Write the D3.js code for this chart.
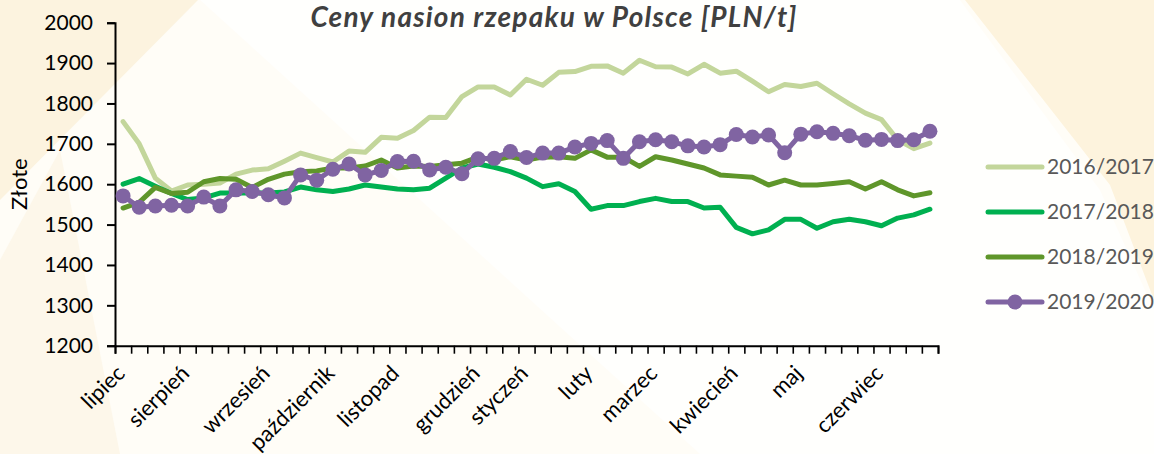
<!DOCTYPE html>
<html>
<head>
<meta charset="utf-8">
<script src="https://cdn.jsdelivr.net/npm/d3@7"></script>
<style>
  body { margin: 0; background: #ffffff; }
  svg { display: block; font-family: Lato, "Noto Sans", sans-serif; }
</style>
</head>
<body>
<div id="chart"></div>
<script>
// chart values, one entry per week (lipiec .. czerwiec)
var seasons = ["2016/2017", "2017/2018", "2018/2019", "2019/2020"];

var s2016 = [1755, 1700, 1615, 1583, 1598, 1600, 1603, 1625, 1635, 1638, 1657, 1677, 1666, 1655, 1682, 1679, 1716,
  1714, 1733, 1766, 1765, 1817, 1841, 1841, 1821, 1860, 1845, 1877, 1879, 1892, 1893, 1875, 1907, 1891, 1890,
  1873, 1897, 1875, 1880, 1855, 1829, 1847, 1842, 1850, 1824, 1799, 1776, 1760, 1710, 1688, 1702];

var s2017 = [1600, 1614, 1595, 1577, 1562, 1566, 1578, 1578, 1578, 1578, 1581, 1593, 1586, 1582, 1588, 1598, 1593,
  1588, 1586, 1590, 1615, 1640, 1650, 1642, 1631, 1615, 1594, 1601, 1582, 1538, 1547, 1547, 1557, 1565, 1557,
  1557, 1541, 1543, 1493, 1477, 1487, 1513, 1513, 1491, 1507, 1513, 1507, 1497, 1516, 1524, 1538];

var s2018 = [1541, 1555, 1592, 1577, 1580, 1606, 1614, 1612, 1592, 1612, 1625, 1631, 1633, 1640, 1640, 1645, 1660,
  1640, 1645, 1644, 1648, 1652, 1667, 1660, 1668, 1660, 1667, 1668, 1664, 1685, 1667, 1667, 1644, 1668, 1660,
  1650, 1640, 1623, 1620, 1617, 1598, 1610, 1598, 1598, 1602, 1606, 1588, 1606, 1586, 1571, 1579];

var s2019 = [1571, 1543, 1546, 1548, 1546, 1568, 1546, 1586, 1582, 1574, 1566, 1623, 1610, 1637, 1650, 1623, 1634,
  1656, 1657, 1635, 1642, 1626, 1663, 1664, 1681, 1666, 1677, 1677, 1692, 1701, 1708, 1664, 1705, 1710, 1705,
  1695, 1692, 1698, 1723, 1717, 1722, 1678, 1724, 1730, 1726, 1720, 1709, 1711, 1708, 1710, 1731];

// month names and the week they are written under
var months = ["lipiec", "sierpień", "wrzesień", "październik", "listopad", "grudzień", "styczeń", "luty",
  "marzec", "kwiecień", "maj", "czerwiec"];
var monthWeek = [0, 4, 9, 13, 17, 22, 25, 29, 33, 38, 42, 47];

var yTicks = [1200, 1300, 1400, 1500, 1600, 1700, 1800, 1900, 2000];

var colors = ["#c3d69b", "#00b050", "#5f962a", "#8064a2"];

var W = 1154, H = 454;
var plot = { left: 115, right: 938, top: 22.7, bottom: 345.7 };

var svg = d3.select("#chart").append("svg")
  .attr("width", W)
  .attr("height", H);

// pale background shapes
svg.append("rect").attr("width", W).attr("height", H).attr("fill", "#fffdf7");
var bg = svg.append("g");
bg.append("path").attr("d", "M0,0 L198,0 L0,200 Z").attr("fill", "#fcf3df");
bg.append("path").attr("d", "M965,0 L1154,0 L1154,300 L1110,185 Z").attr("fill", "#fdf3dd");
bg.append("path").attr("d", "M0,260 L60,150 L120,454 L0,454 Z").attr("fill", "#fdf7ea");
bg.append("path").attr("d", "M200,0 L960,0 L1100,190 L1154,310 L1154,454 L700,454 Z").attr("fill", "#ffffff").attr("opacity", 0.7);

var weeks = d3.range(s2016.length);

var x = d3.scaleBand()
  .domain(weeks)
  .range([plot.left, plot.right]);

var xEdge = d3.scaleLinear()
  .domain([0, weeks.length])
  .range([plot.left, plot.right]);

var y = d3.scaleLinear()
  .domain([1200, 2000])
  .range([plot.bottom, plot.top]);

function cx(i) { return x(i) + x.bandwidth() / 2; }

// y axis
var yAxis = svg.append("g")
  .attr("transform", "translate(" + plot.left + ",0)")
  .call(d3.axisLeft(y).tickValues(yTicks).tickSize(8).tickPadding(14).tickFormat(d3.format("d")));
yAxis.select(".domain").attr("stroke", "#000").attr("stroke-width", 2);
yAxis.selectAll(".tick line").attr("stroke", "#000").attr("stroke-width", 2);
yAxis.selectAll("text").attr("font-size", 21).attr("fill", "#000").attr("font-family", "Lato");

// x axis: ticks at week boundaries, labels under the first week of each month
var xAxis = svg.append("g")
  .attr("transform", "translate(0," + plot.bottom + ")")
  .call(d3.axisBottom(xEdge).tickValues(d3.range(weeks.length + 1)).tickSize(8).tickFormat(""));
xAxis.select(".domain").attr("stroke", "#000").attr("stroke-width", 2);
xAxis.selectAll(".tick line").attr("stroke", "#000").attr("stroke-width", 1.6);

svg.append("g").selectAll("text")
  .data(months)
  .enter()
  .append("text")
  .attr("transform", function (d, i) {
    return "translate(" + (cx(monthWeek[i]) + 3) + "," + (plot.bottom + 29) + ") rotate(-45)";
  })
  .attr("text-anchor", "end")
  .attr("font-size", 22)
  .attr("fill", "#000")
  .text(function (d) { return d; });

// axis title
svg.append("text")
  .attr("transform", "translate(27," + ((plot.top + plot.bottom) / 2) + ") rotate(-90)")
  .attr("text-anchor", "middle")
  .attr("font-size", 22)
  .attr("fill", "#000")
  .text("Złote");

// chart title
svg.append("text")
  .attr("x", 554)
  .attr("y", 27)
  .attr("text-anchor", "middle")
  .attr("font-size", 28)
  .attr("font-weight", "bold")
  .attr("font-style", "italic")
  .attr("letter-spacing", 1.2)
  .attr("fill", "#404040")
  .text("Ceny nasion rzepaku w Polsce [PLN/t]");

// lines
var series = [s2016, s2017, s2018, s2019];
var line = d3.line()
  .x(function (d, i) { return cx(i); })
  .y(function (d) { return y(d); });

svg.append("g").selectAll("path")
  .data(series)
  .enter()
  .append("path")
  .attr("d", function (d) { return line(d); })
  .attr("fill", "none")
  .attr("stroke", function (d, i) { return colors[i]; })
  .attr("stroke-width", 5)
  .attr("stroke-linejoin", "round")
  .attr("stroke-linecap", "round");

// markers for the last season
svg.append("g").selectAll("circle")
  .data(s2019)
  .enter()
  .append("circle")
  .attr("cx", function (d, i) { return cx(i); })
  .attr("cy", function (d) { return y(d); })
  .attr("r", 7.5)
  .attr("fill", colors[3]);

// legend
var legend = svg.append("g").selectAll("g")
  .data(seasons)
  .enter()
  .append("g")
  .attr("transform", function (d, i) { return "translate(988," + (167 + i * 45) + ")"; });

legend.append("line")
  .attr("x1", 0).attr("x2", 54)
  .attr("stroke", function (d, i) { return colors[i]; })
  .attr("stroke-width", 5)
  .attr("stroke-linecap", "round");

legend.filter(function (d, i) { return i === 3; })
  .append("circle")
  .attr("cx", 27)
  .attr("r", 7.5)
  .attr("fill", colors[3]);

legend.append("text")
  .attr("x", 59)
  .attr("dy", "0.35em")
  .attr("font-size", 21)
  .attr("fill", "#595959")
  .text(function (d) { return d; });
</script>
</body>
</html>
